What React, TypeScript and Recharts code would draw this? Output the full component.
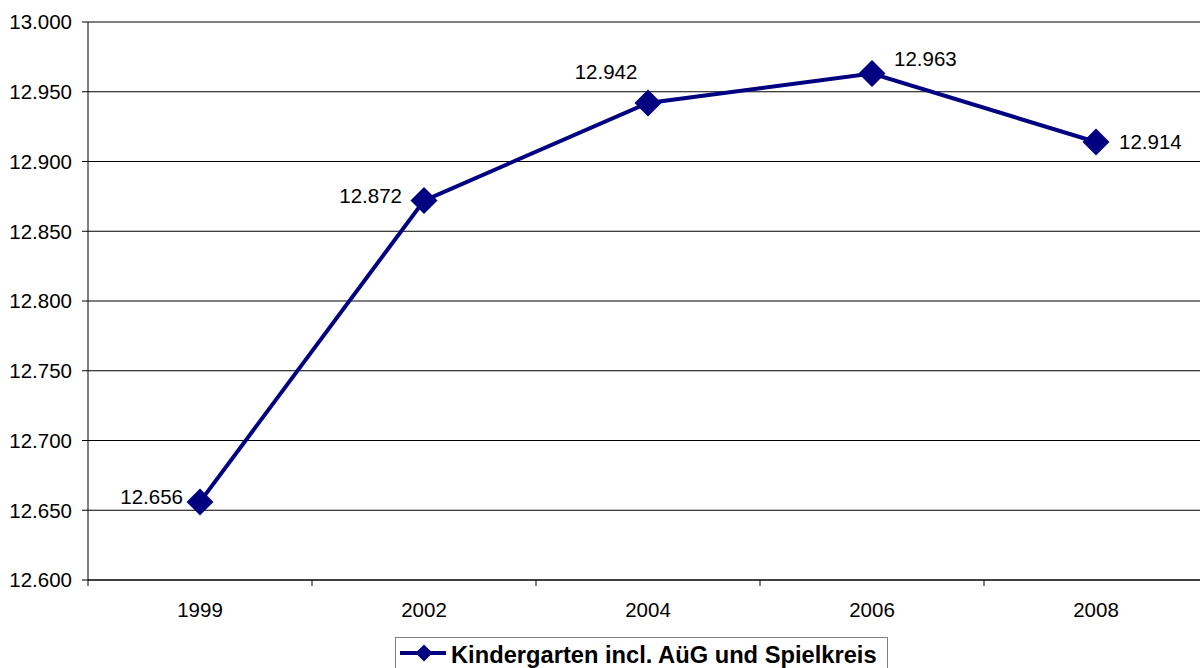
import React from "react";
import {
  CartesianGrid,
  Line,
  LineChart,
  ReferenceLine,
  XAxis,
  YAxis,
} from "recharts";

const YEARS = ["1999", "2002", "2004", "2006", "2008"];
const KINDERGARTEN = [12656, 12872, 12942, 12963, 12914];
const Y_TICKS = [12600, 12650, 12700, 12750, 12800, 12850, 12900, 12950, 13000];
const SERIES_NAME = "Kindergarten incl. AüG und Spielkreis";

// where each value label sits relative to its point (Excel-style auto placement)
const LABEL_OFFSETS = [
  { dx: -17, dy: -5, anchor: "end" },
  { dx: -22, dy: -5, anchor: "end" },
  { dx: -42, dy: -31, anchor: "middle" },
  { dx: 22, dy: -15, anchor: "start" },
  { dx: 23, dy: 0, anchor: "start" },
];

const NAVY = "#000080";
const FONT = "'Liberation Sans', Arial, Helvetica, sans-serif";
const FONT_SIZE = 20.5;

const CHART_W = 1208;
const CHART_H = 668;
const Y_AXIS_W = 88;
const BAND = (CHART_W - Y_AXIS_W) / YEARS.length;

const data = YEARS.map((year, i) => ({ year, value: KINDERGARTEN[i] }));

function fmt(v: number): string {
  const n = Math.round(v);
  return `${Math.floor(n / 1000)}.${String(n % 1000).padStart(3, "0")}`;
}

function Diamond(props: any) {
  const { cx, cy, size = 13.5 } = props;
  if (cx == null || cy == null) return null;
  const r = size;
  return (
    <polygon
      points={`${cx},${cy - r} ${cx + r},${cy} ${cx},${cy + r} ${cx - r},${cy}`}
      fill={NAVY}
    />
  );
}

function ValueLabel(props: any) {
  const { x, y, value, index } = props;
  const o = LABEL_OFFSETS[index] ?? LABEL_OFFSETS[0];
  return (
    <text
      x={x + o.dx}
      y={y + o.dy}
      dy="0.36em"
      textAnchor={o.anchor}
      fontFamily={FONT}
      fontSize={FONT_SIZE}
      fill="#000"
    >
      {fmt(value)}
    </text>
  );
}

function YearTick(props: any) {
  const { x, y, payload, index } = props;
  const left = x - BAND / 2;
  return (
    <g>
      <line x1={left} y1={y} x2={left} y2={y + 6} stroke="#000" />
      {index === YEARS.length - 1 ? (
        <line x1={x + BAND / 2} y1={y} x2={x + BAND / 2} y2={y + 6} stroke="#000" />
      ) : null}
      <text
        x={x}
        y={y + 37}
        textAnchor="middle"
        fontFamily={FONT}
        fontSize={FONT_SIZE}
        fill="#000"
      >
        {payload.value}
      </text>
    </g>
  );
}

function LegendBox() {
  return (
    <svg
      width={494}
      height={40}
      style={{ position: "absolute", left: 395, top: 637 }}
    >
      <rect x={0.5} y={0.5} width={492} height={45} fill="#fff" stroke="#808080" />
      <line x1={5} y1={16} x2={51} y2={16} stroke={NAVY} strokeWidth={4} />
      <Diamond cx={29} cy={16} size={8.5} />
      <text
        x={56}
        y={26}
        fontFamily={FONT}
        fontSize={23.7}
        fontWeight="bold"
        fill="#000"
      >
        {SERIES_NAME}
      </text>
    </svg>
  );
}

export default function App() {
  return (
    <div
      style={{
        position: "fixed",
        left: 0,
        top: 0,
        width: 1200,
        height: 668,
        overflow: "hidden",
        background: "#fff",
      }}
    >
      <LineChart
        width={CHART_W}
        height={CHART_H}
        data={data}
        margin={{ top: 22, right: 0, bottom: 48, left: 0 }}
      >
        <CartesianGrid vertical={false} stroke="#000" />
        <ReferenceLine y={13000} stroke="#808080" strokeWidth={2} />
        <XAxis
          dataKey="year"
          height={40}
          stroke="#000"
          tickLine={false}
          tickSize={0}
          tickMargin={0}
          tick={<YearTick />}
          interval={0}
          padding={{ left: BAND / 2, right: BAND / 2 }}
        />
        <YAxis
          width={Y_AXIS_W}
          domain={[12600, 13000]}
          ticks={Y_TICKS}
          tickFormatter={fmt}
          stroke="#000"
          tickSize={6}
          tickMargin={10}
          tick={{ fill: "#000", fontFamily: FONT, fontSize: FONT_SIZE }}
          interval={0}
        />
        <Line
          type="linear"
          dataKey="value"
          name={SERIES_NAME}
          stroke={NAVY}
          strokeWidth={4}
          dot={<Diamond size={13.5} />}
          activeDot={false}
          label={<ValueLabel />}
          isAnimationActive={false}
        />
      </LineChart>
      <LegendBox />
    </div>
  );
}
